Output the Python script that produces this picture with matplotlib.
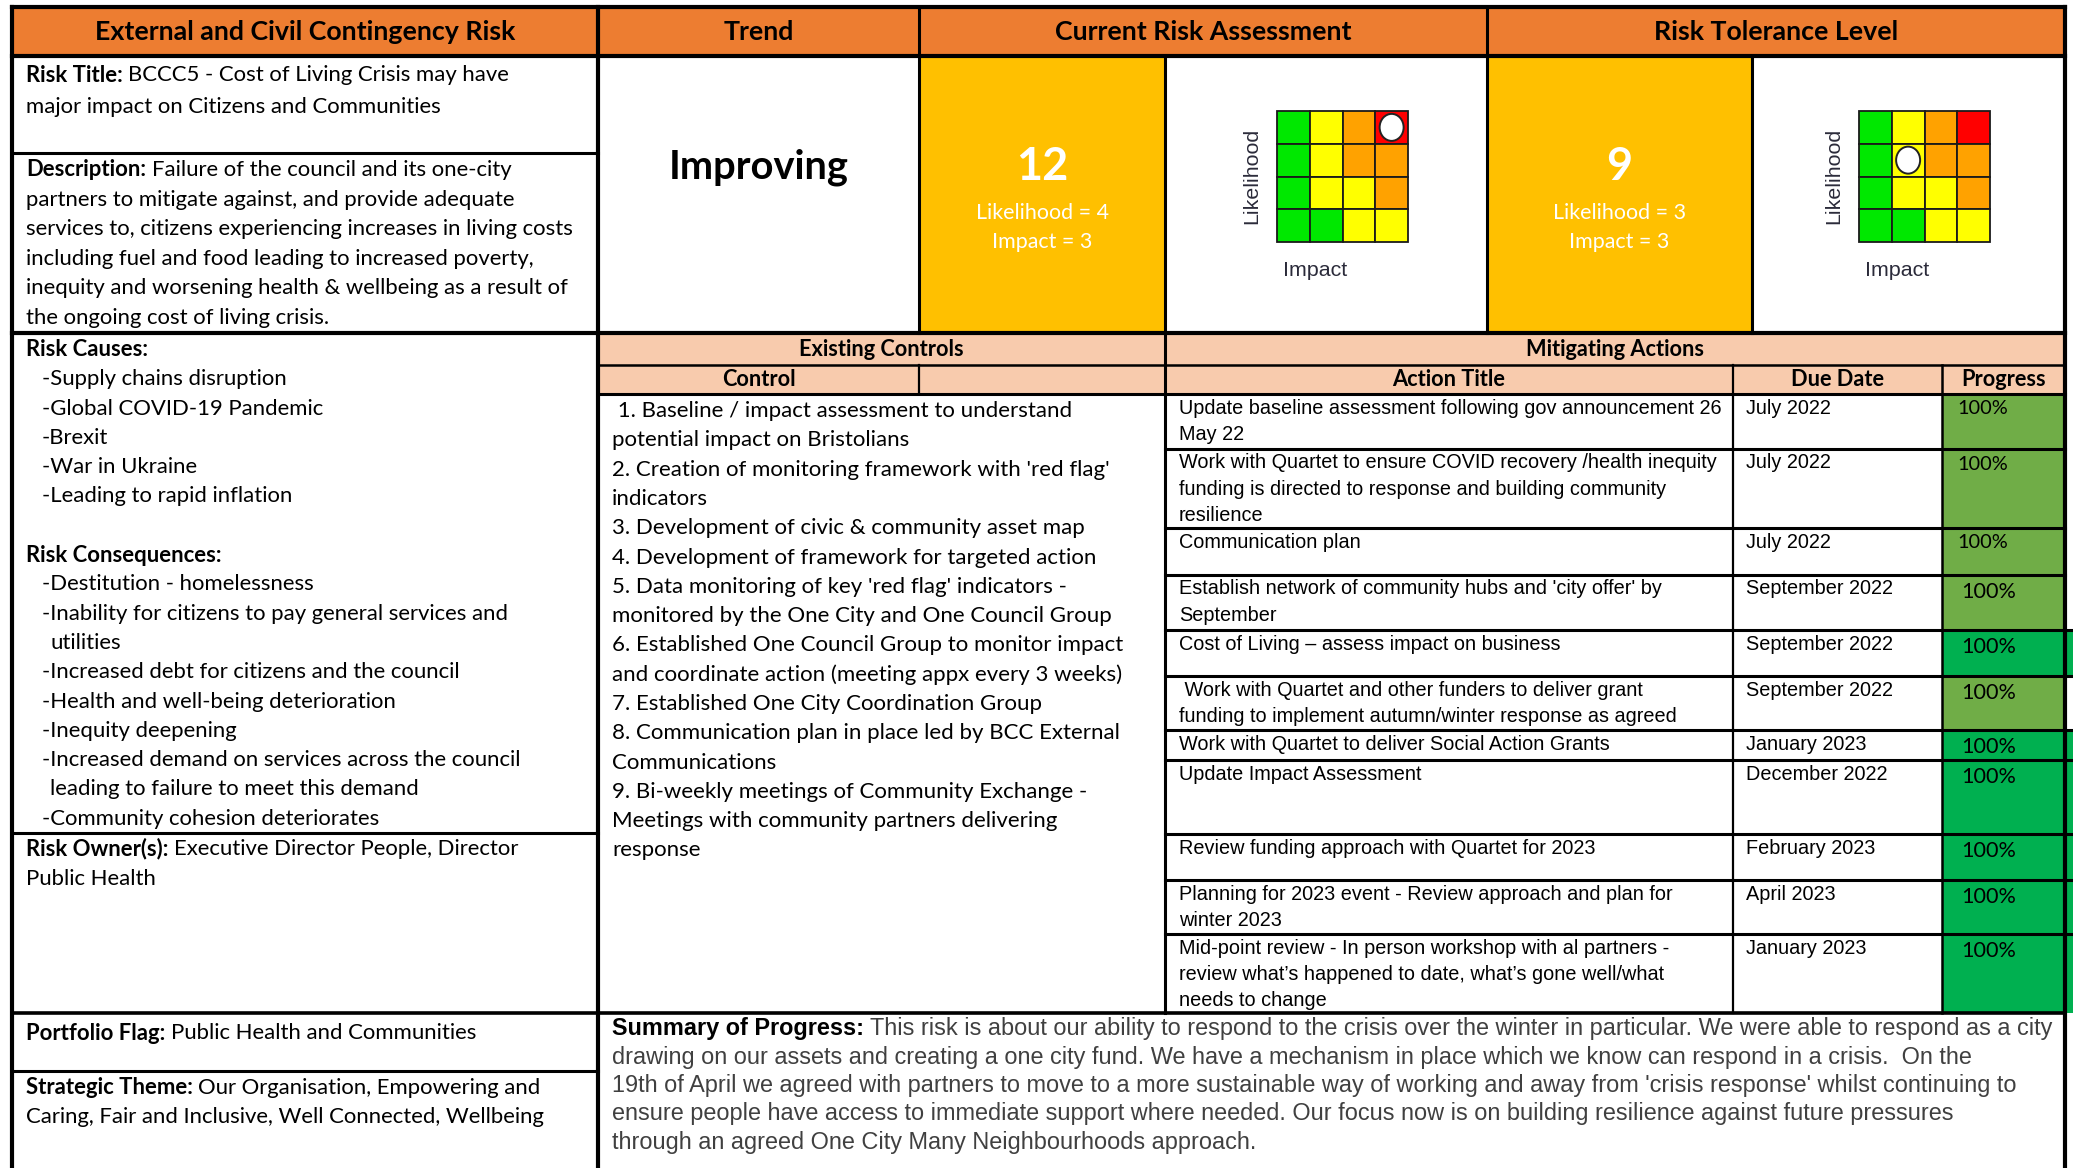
import matplotlib
matplotlib.use('Agg')
import matplotlib.pyplot as plt
from matplotlib import font_manager
from matplotlib.patches import Rectangle, Ellipse


# Canvas size in pixels (drawn 1:1 at dpi 100)
W, H = 2073, 1168

installed = {f.name for f in font_manager.fontManager.ttflist}
BODY = 'Lato' if 'Lato' in installed else 'DejaVu Sans'
NARROW = 'Liberation Sans Narrow' if 'Liberation Sans Narrow' in installed else 'Liberation Sans'
ARIAL = 'Liberation Sans'

# ---------------- data ----------------
headers = ['External and Civil Contingency Risk', 'Trend', 'Current Risk Assessment', 'Risk Tolerance Level']

risk_title = "BCCC5 - Cost of Living Crisis may have\nmajor impact on Citizens and Communities"
description = ("Failure of the council and its one-city\n"
               "partners to mitigate against, and provide adequate\n"
               "services to, citizens experiencing increases in living costs\n"
               "including fuel and food leading to increased poverty,\n"
               "inequity and worsening health & wellbeing as a result of\n"
               "the ongoing cost of living crisis.")
risk_causes = ['Supply chains disruption', 'Global COVID-19 Pandemic', 'Brexit',
               'War in Ukraine', 'Leading to rapid inflation']
risk_consequences = ['Destitution - homelessness',
                     'Inability for citizens to pay general services and\nutilities',
                     'Increased debt for citizens and the council',
                     'Health and well-being deterioration',
                     'Inequity deepening',
                     'Increased demand on services across the council\nleading to failure to meet this demand',
                     'Community cohesion deteriorates']
risk_owner = "Executive Director People, Director\nPublic Health"
portfolio_flag = "Public Health and Communities"
strategic_theme = "Our Organisation, Empowering and\nCaring, Fair and Inclusive, Well Connected, Wellbeing"

trend = 'Improving'
current_score, current_likelihood, current_impact = 12, 4, 3
tolerance_score, tolerance_likelihood, tolerance_impact = 9, 3, 3
# circle shown on each matrix: (likelihood row, impact column)
current_marker = (4, 4)
tolerance_marker = (3, 2)
# matrix colours, top row = likelihood 4, left column = impact 1
matrix_colors = [['#00E800', '#FFFF00', '#FFA200', '#FF0000'],
                 ['#00E800', '#FFFF00', '#FFA200', '#FFA200'],
                 ['#00E800', '#FFFF00', '#FFFF00', '#FFA200'],
                 ['#00E800', '#00E800', '#FFFF00', '#FFFF00']]

controls = [" 1. Baseline / impact assessment to understand\npotential impact on Bristolians",
            "2. Creation of monitoring framework with 'red flag'\nindicators",
            "3. Development of civic & community asset map",
            "4. Development of framework for targeted action",
            "5. Data monitoring of key 'red flag' indicators -\nmonitored by the One City and One Council Group",
            "6. Established One Council Group to monitor impact\nand coordinate action (meeting appx every 3 weeks)",
            "7. Established One City Coordination Group",
            "8. Communication plan in place led by BCC External\nCommunications",
            "9. Bi-weekly meetings of Community Exchange -\nMeetings with community partners delivering\nresponse"]

action_titles = ["Update baseline assessment following gov announcement 26\nMay 22",
                 "Work with Quartet to ensure COVID recovery /health inequity\nfunding is directed to response and building community\nresilience",
                 "Communication plan",
                 "Establish network of community hubs and 'city offer' by\nSeptember",
                 "Cost of Living \u2013 assess impact on business",
                 " Work with Quartet and other funders to deliver grant\nfunding to implement autumn/winter response as agreed",
                 "Work with Quartet to deliver Social Action Grants",
                 "Update Impact Assessment",
                 "Review funding approach with Quartet for 2023",
                 "Planning for 2023 event - Review approach and plan for\nwinter 2023",
                 "Mid-point review - In person workshop with al partners -\nreview what\u2019s happened to date, what\u2019s gone well/what\nneeds to change"]
due_dates = ['July 2022', 'July 2022', 'July 2022', 'September 2022', 'September 2022',
             'September 2022', 'January 2023', 'December 2022', 'February 2023',
             'April 2023', 'January 2023']
progress = [100, 100, 100, 100, 100, 100, 100, 100, 100, 100, 100]
progress_colors = ['#70AD47', '#70AD47', '#70AD47', '#70AD47', '#00B050', '#70AD47',
                   '#00B050', '#00B050', '#00B050', '#00B050', '#00B050']

summary = ("This risk is about our ability to respond to the crisis over the winter in particular. We were able to respond as a city\n"
           "drawing on our assets and creating a one city fund. We have a mechanism in place which we know can respond in a crisis.  On the\n"
           "19th of April we agreed with partners to move to a more sustainable way of working and away from 'crisis response' whilst continuing to\n"
           "ensure people have access to immediate support where needed. Our focus now is on building resilience against future pressures\n"
           "through an agreed One City Many Neighbourhoods approach.")

# ---------------- layout (pixels) ----------------
X0, X1, X2, X3, X4, X5, X6 = 12, 598, 919, 1165, 1487, 1752, 2065
A1, A2 = 1733, 1942
Y0, Y1, Y_TITLE, Y2, Y3, Y4 = 7, 56, 153, 333, 365, 394
Y_CAUSES, Y_OWNER, Y_PORT = 833, 1013, 1071
action_row_edges = [394, 449, 528, 575, 630, 676, 730, 760, 834, 880, 934, 1013]

ORANGE = '#ED7D31'
GOLD = '#FFC000'
PEACH = '#F8CBAD'

fig = plt.figure(figsize=(W / 100, H / 100), dpi=100)
ax = fig.add_axes([0, 0, 1, 1])
ax.set_xlim(0, W)
ax.set_ylim(H, 0)
ax.axis('off')
renderer = fig.canvas.get_renderer()


def put(x, y, s, size, family=BODY, weight='normal', color='black', ha='left', **kw):
    return ax.text(x, y, s, fontsize=size, family=family, weight=weight, color=color,
                   ha=ha, va='center', zorder=5, **kw)


def width_of(s, size, family, weight='normal'):
    t = put(0, 0, s, size, family, weight)
    w = t.get_window_extent(renderer).width
    t.remove()
    return w


def fit(s, target, family, weight='normal'):
    # font size that makes s about target pixels wide
    return 20 * target / width_of(s, 20, family, weight)


def rich(x, y, label, rest, size, family=BODY, color='black'):
    t = put(x, y, label, size, family, 'bold')
    w = t.get_window_extent(renderer).width
    put(x + w + 0.25 * size * 100 / 72, y, rest, size, family, color=color)


def fill(x0, y0, x1, y1, color):
    ax.add_patch(Rectangle((x0, y0), x1 - x0, y1 - y0, facecolor=color, edgecolor='none', zorder=1))


def hline(y, x0, x1, lw=2.2):
    ax.plot([x0, x1], [y, y], color='black', lw=lw, solid_capstyle='projecting', zorder=4)


def vline(x, y0, y1, lw=2.2):
    ax.plot([x, x], [y0, y1], color='black', lw=lw, solid_capstyle='projecting', zorder=4)


# font sizes fitted to line widths
s_body = fit("services to, citizens experiencing increases in living costs", 551, BODY)
s_ctrl = fit("and coordinate action (meeting appx every 3 weeks)", 510, BODY)
s_head = fit(headers[0], 422, BODY, 'bold')
s_sub = fit("Existing Controls", 165, BODY, 'bold')
s_act = fit("Work with Quartet to ensure COVID recovery /health inequity", 536, NARROW)
s_trend = fit(trend, 180, BODY, 'bold')
s_big = fit("12", 52, BODY, 'bold')
s_lik = fit("Likelihood = 4", 133, BODY)
s_mlab = fit("Likelihood", 96, ARIAL)

# summary: first line carries the bold label, so fit that whole line too
sum_lines = summary.split('\n')
w_first = (width_of('Summary of Progress:', 20, NARROW, 'bold') + 0.25 * 20 * 100 / 72
           + width_of(sum_lines[0], 20, NARROW))
s_sum = min(fit(sum_lines[2], 1435, NARROW), 20 * 1435 / w_first)

# ---------------- fills ----------------
fill(X0, Y0, X6, Y1, ORANGE)
fill(X2, Y1, X3, Y2, GOLD)
fill(X4, Y1, X5, Y2, GOLD)
fill(X1, Y2, X6, Y4, PEACH)
for i, c in enumerate(progress_colors):
    right = W if c == '#00B050' else X6
    fill(A2, action_row_edges[i], right, action_row_edges[i + 1], c)

# ---------------- header row ----------------
yh = (Y0 + Y1) / 2
for txt, (a, b) in zip(headers, [(X0, X1), (X1, X2), (X2, X4), (X4, X6)]):
    put((a + b) / 2, yh, txt, s_head, weight='bold', ha='center')

# ---------------- left column ----------------
LX, IX = 26, 42
step = 29.3
lines = risk_title.split('\n')
rich(LX, 75, 'Risk Title:', lines[0], s_body)
put(LX, 107, lines[1], s_body)

lines = description.split('\n')
rich(LX, 170, 'Description:', lines[0], s_body)
for i, ln in enumerate(lines[1:], 1):
    put(LX, 170 + i * step * 1.01, ln, s_body)

y = 350
put(LX, y, 'Risk Causes:', s_body, weight='bold')
for item in risk_causes:
    y += step
    put(IX, y, '-' + item, s_body)
y += 2 * step
put(LX, y, 'Risk Consequences:', s_body, weight='bold')
for item in risk_consequences:
    parts = item.split('\n')
    y += step
    put(IX, y, '-' + parts[0], s_body)
    for p in parts[1:]:
        y += step
        put(IX + 8, y, p, s_body)

lines = risk_owner.split('\n')
rich(LX, 849, 'Risk Owner(s):', lines[0], s_body)
put(LX, 879, lines[1], s_body)
rich(LX, 1033, 'Portfolio Flag:', portfolio_flag, s_body)
lines = strategic_theme.split('\n')
rich(LX, 1088, 'Strategic Theme:', lines[0], s_body)
put(LX, 1117, lines[1], s_body)

# ---------------- trend and scores ----------------
put((X1 + X2) / 2, 167, trend, s_trend, weight='bold', ha='center')


def score_block(cx, score, lik, imp):
    put(cx, 167, str(score), s_big, weight='bold', color='white', ha='center')
    put(cx, 213, f'Likelihood = {lik}', s_lik, color='white', ha='center')
    put(cx, 242, f'Impact = {imp}', s_lik, color='white', ha='center')


def risk_matrix(x0, y0, marker):
    cell = 32.75
    for r, row in enumerate(matrix_colors):
        for c, col in enumerate(row):
            ax.add_patch(Rectangle((x0 + c * cell, y0 + r * cell), cell, cell,
                                   facecolor=col, edgecolor='#1a1a1a', lw=1.3, zorder=2))
    mr = 4 - marker[0]
    mc = marker[1] - 1
    ax.add_patch(Ellipse((x0 + (mc + 0.5) * cell, y0 + (mr + 0.5) * cell), 24, 27,
                         facecolor='white', edgecolor='#222222', lw=1.4, zorder=3))
    put(x0 - 25, y0 + 2 * cell - 1, 'Likelihood', s_mlab, family=ARIAL,
        color='#2b2b3a', ha='center', rotation=90, rotation_mode='anchor')
    put(x0 + 38, 270, 'Impact', s_mlab, family=ARIAL, color='#2b2b3a', ha='center')


score_block((X2 + X3) / 2, current_score, current_likelihood, current_impact)
score_block((X4 + X5) / 2, tolerance_score, tolerance_likelihood, tolerance_impact)
risk_matrix(1277, 111, current_marker)
risk_matrix(1859, 111, tolerance_marker)

# ---------------- existing controls ----------------
put((X1 + X3) / 2, 349, 'Existing Controls', s_sub, weight='bold', ha='center')
put((X1 + X2) / 2, 380, 'Control', s_sub, weight='bold', ha='center')
y = 411
for item in controls:
    for ln in item.split('\n'):
        put(612, y, ln, s_ctrl)
        y += step

# ---------------- mitigating actions ----------------
put((X3 + X6) / 2, 349, 'Mitigating Actions', s_sub, weight='bold', ha='center')
put((X3 + A1) / 2, 380, 'Action Title', s_sub, weight='bold', ha='center')
put((A1 + A2) / 2, 380, 'Due Date', s_sub, weight='bold', ha='center')
put((A2 + X6) / 2, 380, 'Progress', s_sub, weight='bold', ha='center')
for i, (title, due, pct) in enumerate(zip(action_titles, due_dates, progress)):
    top = action_row_edges[i]
    for j, ln in enumerate(title.split('\n')):
        put(1179, top + 14 + j * 26.4, ln, s_act, family=NARROW)
    put(1746, top + 14, due, s_act, family=NARROW)
    # the first three progress cells use a slightly smaller font
    pct_size = s_ctrl * (0.9 if i < 3 else 0.97)
    put(1957 if i < 3 else 1961, top + 15 + (0 if i < 3 else 2), f'{pct}%', pct_size)

# ---------------- summary ----------------
rich(612, 1029, 'Summary of Progress:', sum_lines[0], s_sum, family=NARROW, color='#404040')
for i, ln in enumerate(sum_lines[1:], 1):
    put(612, 1029 + i * 28.3, ln, s_sum, family=NARROW, color='#404040')

# ---------------- grid lines ----------------
hline(Y0, X0, X6, 3)
hline(Y1, X0, X6, 3)
hline(Y_TITLE, X0, X1)
hline(Y2, X0, X6, 3)
hline(Y3, X1, X6, 1.8)
hline(Y4, X1, X6)
for e in action_row_edges[1:-1]:
    hline(e, X3, X6 if e < 630 else W)
hline(Y_CAUSES, X0, X1)
hline(Y_OWNER, X0, X6, 2.6)
hline(Y_PORT, X0, X1)

vline(X0, Y0, H, 3)
vline(X1, Y0, H, 3)
vline(X2, Y0, Y2)
vline(X2, Y3, Y4, 1.6)
vline(X3, Y1, Y_OWNER)
vline(X4, Y0, Y2)
vline(X5, Y1, Y2)
vline(X6, Y0, H, 3)
vline(A1, Y3, Y_OWNER, 1.6)
vline(A2, Y3, Y_OWNER, 1.8)

fig.savefig('out.png', dpi=100)
plt.close(fig)
